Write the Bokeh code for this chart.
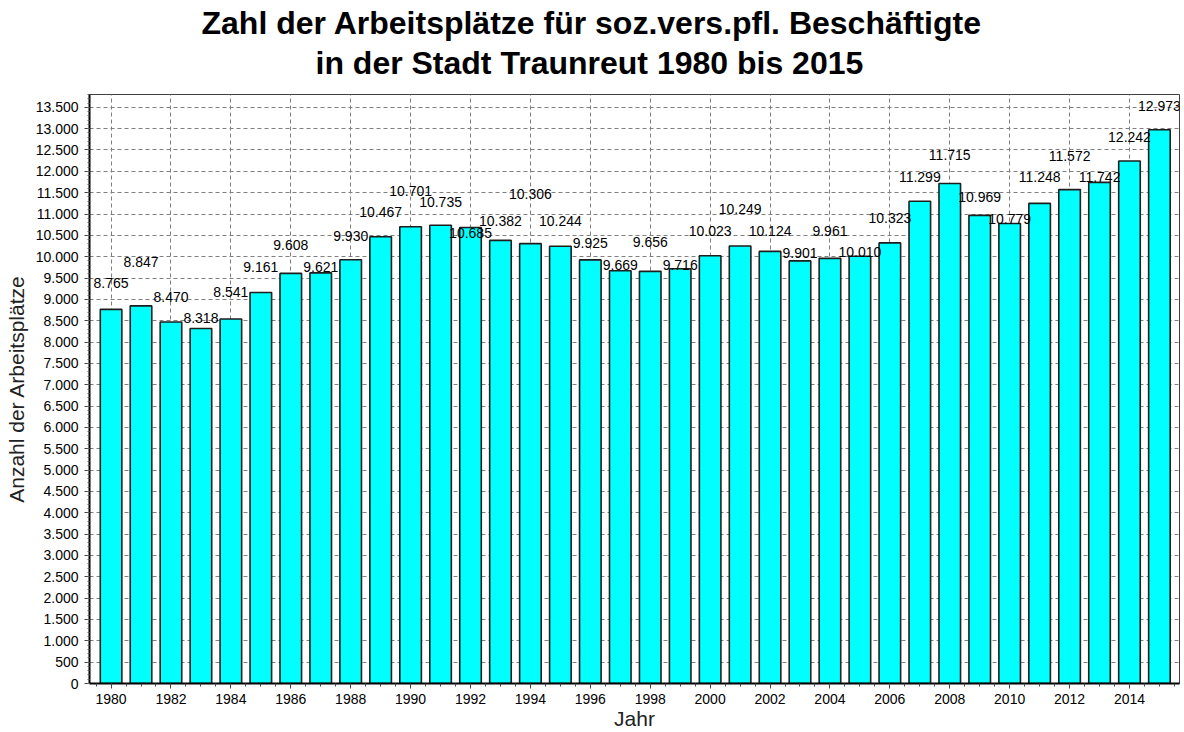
from bokeh.plotting import figure
from bokeh.models import ColumnDataSource, Range1d, FixedTicker, Title
from bokeh.embed import file_html
from bokeh.resources import INLINE

years = list(range(1980, 2016))
jobs = [8765, 8847, 8470, 8318, 8541, 9161, 9608, 9621, 9930, 10467,
        10701, 10735, 10685, 10382, 10306, 10244, 9925, 9669, 9656, 9716,
        10023, 10249, 10124, 9901, 9961, 10010, 10323, 11299, 11715, 10969,
        10779, 11248, 11572, 11742, 12242, 12973]
value_labels = [f"{v:,}".replace(",", ".") for v in jobs]

x_tick_years = list(range(1980, 2016, 2))
y_ticks = list(range(0, 14000, 500))
y_tick_labels = [f"{t:,}".replace(",", ".") for t in y_ticks]

title_line1 = "Zahl der Arbeitsplätze für soz.vers.pfl. Beschäftigte"
title_line2 = "in der Stadt Traunreut 1980 bis 2015"
x_label = "Jahr"
y_label = "Anzahl der Arbeitsplätze"

# style: how far (px) each value label sits above its bar top
label_lift_px = [26, 44, 25, 10, 27, 25, 28, 6, 24, 25, 36, 23, -6, 19, 50, 25,
                 17, 6, 29, 4, 25, 37, 20, 8, 27, 4, 25, 24, 28, 18, 4, 26, 34,
                 5, 24, 24]

FONT = "Liberation Sans"

src = ColumnDataSource(dict(
    x=years, top=jobs, label=value_labels,
    yoff=[-v for v in label_lift_px],
))

p = figure(width=1184, height=732, output_backend="svg", toolbar_location=None,
           x_range=Range1d(1979.28, 2015.67), y_range=Range1d(0, 13800),
           min_border_left=89, min_border_right=5, min_border_top=94,
           min_border_bottom=49, background_fill_color="white",
           border_fill_color="white")

p.title = Title(text=title_line1, align="left", offset=112,
                text_font=FONT, text_font_size="32px", text_font_style="bold",
                text_color="black", standoff=-25)
p.add_layout(Title(text=title_line2, align="left", offset=226,
                   text_font=FONT, text_font_size="32px", text_font_style="bold",
                   text_color="black", standoff=28), "above")

p.vbar(x="x", top="top", width=0.72, source=src, fill_color="#00FFFF",
       line_color="#1e1e1e", line_width=1.6)
p.text(x="x", y="top", text="label", source=src, y_offset="yoff",
       text_align="center", text_baseline="middle", text_font_size="14px",
       text_font={"value": FONT}, text_color="black")

p.outline_line_color = "#404040"
p.outline_line_width = 1

xa = p.xaxis[0]
xa.ticker = FixedTicker(ticks=x_tick_years,
                        minor_ticks=[1979.5 + 0.5 * i for i in range(73)])
xa.axis_line_width = 2
xa.axis_line_color = "black"
xa.major_tick_in = 0
xa.major_tick_out = 5
xa.minor_tick_in = 0
xa.minor_tick_out = 3
xa.major_tick_line_color = "#444444"
xa.minor_tick_line_color = "#444444"
xa.major_label_text_font = FONT
xa.major_label_text_font_size = "14px"
xa.major_label_text_color = "black"
xa.major_label_standoff = 5
xa.axis_label = x_label
xa.axis_label_text_font = FONT
xa.axis_label_text_font_size = "21px"
xa.axis_label_text_font_style = "normal"
xa.axis_label_text_color = "#222222"
xa.axis_label_standoff = 0

ya = p.yaxis[0]
ya.ticker = FixedTicker(ticks=y_ticks, minor_ticks=list(range(0, 13801, 100)))
ya.major_label_overrides = {t: l for t, l in zip(y_ticks, y_tick_labels)}
ya.axis_line_width = 2
ya.axis_line_color = "black"
ya.major_tick_in = 0
ya.major_tick_out = 5
ya.minor_tick_in = 0
ya.minor_tick_out = 2
ya.major_tick_line_color = "#444444"
ya.minor_tick_line_color = "#666666"
ya.major_label_text_font = FONT
ya.major_label_text_font_size = "14px"
ya.major_label_text_color = "black"
ya.major_label_standoff = 6
ya.axis_label = y_label
ya.axis_label_text_font = FONT
ya.axis_label_text_font_size = "21px"
ya.axis_label_text_font_style = "normal"
ya.axis_label_text_color = "#222222"
ya.axis_label_standoff = 5

for g in (p.xgrid[0], p.ygrid[0]):
    g.grid_line_color = "#808080"
    g.grid_line_dash = "4 3"
    g.grid_line_width = 1
p.ygrid[0].ticker = FixedTicker(ticks=y_ticks)

open("out.html", "w").write(file_html(p, INLINE))
